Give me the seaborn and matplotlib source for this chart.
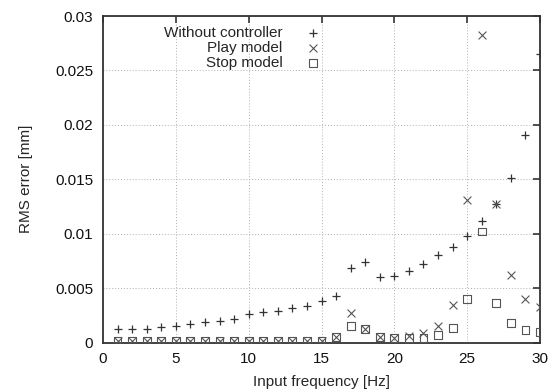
import numpy as np
import pandas as pd
import matplotlib
matplotlib.use("Agg")
import matplotlib.pyplot as plt
import seaborn as sns

freq = list(range(1, 31))
without_controller = [0.0012, 0.0012, 0.00124, 0.00145, 0.00155, 0.0017, 0.00186, 0.00196, 0.00216, 0.0026,
                      0.00277, 0.0029, 0.00314, 0.00335, 0.0038, 0.00424, 0.0068, 0.0074, 0.0060, 0.0061,
                      0.0066, 0.0072, 0.0080, 0.0088, 0.00976, 0.0112, 0.0127, 0.0151, 0.0191, 0.0265]
play_model = [0.00015, 0.00015, 0.00015, 0.00018, 0.00018, 0.00016, 0.00016, 0.00016, 0.00016, 0.00018,
              0.00017, 0.0001, 0.00017, 0.00016, 0.00018, 0.00048, 0.00274, 0.00127, 0.0005, 0.00045,
              0.0006, 0.0009, 0.0015, 0.00347, 0.0131, 0.0283, 0.0127, 0.0062, 0.0040, 0.0033]
stop_model = [0.00015, 0.00015, 0.00015, 0.00018, 0.00018, 0.00016, 0.00016, 0.00016, 0.00016, 0.00018,
              0.00017, 0.00012, 0.00017, 0.00016, 0.00018, 0.00048, 0.00155, 0.00127, 0.0005, 0.00042,
              0.00045, 0.0004, 0.0007, 0.00136, 0.0040, 0.0102, 0.00366, 0.00176, 0.00118, 0.00097]
labels = ["Without controller", "Play model", "Stop model"]
x_ticks = [0, 5, 10, 15, 20, 25, 30]
y_ticks = [0, 0.005, 0.01, 0.015, 0.02, 0.025, 0.03]
y_tick_labels = ["0", "0.005", "0.01", "0.015", "0.02", "0.025", "0.03"]

sns.set_style("white")
plt.rcParams["font.family"] = ["Liberation Sans", "DejaVu Sans"]
plt.rcParams["font.size"] = 11

fig = plt.figure(figsize=(5.56, 3.91), dpi=100)
ax = fig.add_axes([103 / 556, 1 - 342.5 / 391, (540 - 103) / 556, (342.5 - 16) / 391])

df = pd.DataFrame({"freq": freq, "w": without_controller, "p": play_model, "s": stop_model})

sns.scatterplot(data=df, x="freq", y="w", marker="+", s=40, color="#333333",
                linewidth=0.9, ax=ax, label=labels[0], zorder=3)
sns.scatterplot(data=df, x="freq", y="p", marker="x", s=32, color="#555555",
                linewidth=0.8, ax=ax, label=labels[1], zorder=3)
sns.scatterplot(data=df, x="freq", y="s", marker="s", s=32, facecolor="none",
                edgecolor="#555555", linewidth=0.8, ax=ax, label=labels[2], zorder=3)

ax.set_xlim(0, 30)
ax.set_ylim(0, 0.03)
ax.set_xticks(x_ticks)
ax.set_xticklabels([str(t) for t in x_ticks])
ax.set_yticks(y_ticks)
ax.set_yticklabels(y_tick_labels)
ax.grid(True, linestyle=(0, (1, 2)), color="#b0b0b0", linewidth=0.7)
ax.tick_params(direction="in", length=5, width=1.2, color="#333333",
               top=True, right=True, labelsize=11, pad=7, labelcolor="#111111")
for sp in ax.spines.values():
    sp.set_color("#333333")
    sp.set_linewidth(1.3)
ax.set_xlabel("Input frequency [Hz]", fontsize=11, labelpad=6)
ax.set_ylabel("RMS error [mm]", fontsize=11, labelpad=16)

leg = ax.legend(loc="upper right", bbox_to_anchor=(0.538, 1.0), markerfirst=False,
                frameon=False, fontsize=11, handletextpad=1.0, labelspacing=0.07,
                borderaxespad=0.0, borderpad=0.65)

fig.savefig("out.png", dpi=100)
